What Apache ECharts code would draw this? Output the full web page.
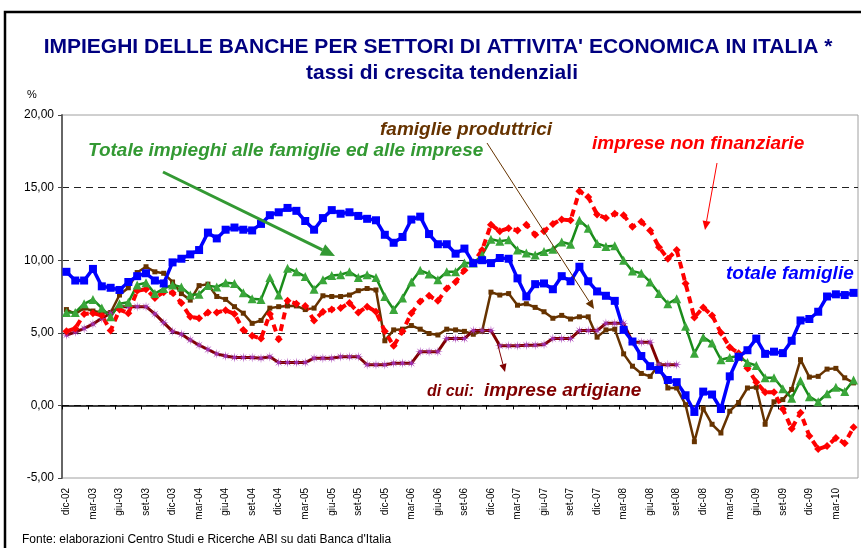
<!DOCTYPE html>
<html>
<head>
<meta charset="utf-8">
<script src="https://cdn.jsdelivr.net/npm/echarts@6/dist/echarts.min.js"></script>
<style>
html, body { margin: 0; padding: 0; background: #fff; }
#chart { width: 861px; height: 548px; }
</style>
</head>
<body>
<div id="chart"></div>
<script>
// mesi da dic-02 a mag-10
const categories = [
    'dic-02',
    'gen-03','feb-03','mar-03','apr-03','mag-03','giu-03','lug-03','ago-03','set-03','ott-03','nov-03','dic-03',
    'gen-04','feb-04','mar-04','apr-04','mag-04','giu-04','lug-04','ago-04','set-04','ott-04','nov-04','dic-04',
    'gen-05','feb-05','mar-05','apr-05','mag-05','giu-05','lug-05','ago-05','set-05','ott-05','nov-05','dic-05',
    'gen-06','feb-06','mar-06','apr-06','mag-06','giu-06','lug-06','ago-06','set-06','ott-06','nov-06','dic-06',
    'gen-07','feb-07','mar-07','apr-07','mag-07','giu-07','lug-07','ago-07','set-07','ott-07','nov-07','dic-07',
    'gen-08','feb-08','mar-08','apr-08','mag-08','giu-08','lug-08','ago-08','set-08','ott-08','nov-08','dic-08',
    'gen-09','feb-09','mar-09','apr-09','mag-09','giu-09','lug-09','ago-09','set-09','ott-09','nov-09','dic-09',
    'gen-10','feb-10','mar-10','apr-10','mag-10'
];

const totaleFamiglie = [
    9.2, 8.6, 8.6, 9.4, 8.2, 8.1, 7.95, 8.5, 8.9, 9.1, 8.6, 8.4,
    9.85, 10.1, 10.4, 10.7, 11.9, 11.5, 12.1, 12.25, 12.1, 12.05, 12.5, 13.1,
    13.3, 13.6, 13.4, 12.7, 12.1, 12.9, 13.45, 13.2, 13.3, 13.05, 12.85, 12.75,
    11.75, 11.2, 11.6, 12.8, 13.0, 11.8, 11.1, 11.1, 10.45, 10.8, 9.8, 10.0,
    9.8, 10.15, 10.1, 8.75, 7.5, 8.35, 8.4, 8.0, 8.9, 8.55, 9.55, 8.55,
    7.85, 7.55, 7.2, 5.2, 4.4, 3.4, 2.7, 2.45, 1.75, 1.6, 0.7, -0.45,
    0.95, 0.75, -0.25, 2.0, 3.35, 3.8, 4.6, 3.55, 3.7, 3.6, 4.45, 5.85,
    5.95, 6.45, 7.5, 7.65, 7.6, 7.75
];

const totaleImpieghi = [
    6.4, 6.4, 7.0, 7.3, 6.7, 6.1, 7.0, 7.1, 8.3, 8.45, 7.7, 8.05,
    8.3, 8.15, 7.6, 7.65, 8.25, 8.15, 8.45, 8.4, 7.75, 7.35, 7.3, 8.8,
    7.6, 9.45, 9.2, 8.87, 8.0, 8.65, 8.95, 9.0, 9.2, 8.8, 9.0, 8.8,
    7.5, 6.6, 7.4, 8.5, 9.3, 9.05, 8.65, 9.2, 9.2, 9.8, 9.8, 10.35,
    11.45, 11.3, 11.4, 10.7, 10.5, 10.35, 10.6, 10.75, 11.25, 11.1, 12.75, 12.2,
    11.15, 10.95, 11.0, 10.0, 9.25, 9.1, 8.5, 7.7, 7.0, 7.35, 5.45, 3.6,
    4.7, 4.3, 3.15, 3.3, 3.4, 2.95, 2.75, 1.9, 1.9, 1.15, 0.5, 1.7,
    0.6, 0.25, 0.8, 1.25, 0.95, 1.75
];

const famiglieProduttrici = [
    6.6, 6.3, 6.7, 6.5, 6.4, 6.4, 7.6, 8.1, 9.15, 9.55, 9.2, 9.1,
    8.5, 7.7, 7.25, 8.25, 8.35, 7.5, 7.3, 6.8, 6.35, 5.65, 5.85, 6.7,
    6.8, 6.85, 6.85, 6.6, 6.7, 7.55, 7.5, 7.5, 7.6, 7.9, 8.05, 7.95,
    4.45, 5.2, 5.25, 5.5, 5.25, 4.95, 4.85, 5.25, 5.2, 5.1, 4.9, 5.1,
    7.8, 7.6, 7.7, 6.9, 7.0, 6.75, 6.45, 6.0, 6.2, 5.95, 6.1, 6.1,
    4.7, 5.2, 5.25, 3.55, 2.7, 2.2, 2.0, 2.8, 1.2, 1.2, 0.05, -2.5,
    -0.2, -1.3, -1.9, -0.4, 0.2, 1.2, 1.25, -1.3, 0.25, 0.4, 1.1, 3.15,
    1.95, 2.0, 2.5, 2.55, 1.9, 1.55
];

const impreseArtigiane = [
    4.85, 5.05, 5.3, 5.6, 6.0, 6.35, 6.8, 6.8, 6.8, 6.8, 6.3, 5.7,
    5.1, 4.9, 4.5, 4.15, 3.85, 3.55, 3.4, 3.3, 3.3, 3.3, 3.25, 3.35,
    2.95, 2.95, 2.95, 2.95, 3.25, 3.25, 3.25, 3.35, 3.35, 3.35, 2.8, 2.8,
    2.8, 2.9, 2.9, 2.9, 3.7, 3.7, 3.7, 4.6, 4.6, 4.6, 5.15, 5.15,
    5.15, 4.1, 4.1, 4.1, 4.15, 4.15, 4.2, 4.6, 4.6, 4.6, 5.15, 5.15,
    5.15, 5.65, 5.65, 5.65, 4.35, 4.35, 4.35, 2.8, 2.8, 2.8
];

const impreseNonFinanziarie = [
    5.1, 5.3, 6.3, 6.35, 6.2, 5.15, 6.6, 6.35, 7.9, 8.0, 7.4, 7.8,
    7.75, 7.05, 6.1, 6.0, 6.4, 6.4, 6.55, 6.3, 5.2, 4.8, 4.6, 6.3,
    4.55, 7.2, 7.0, 6.85, 5.85, 6.45, 6.6, 6.7, 7.05, 6.4, 6.8, 6.45,
    5.1, 4.1, 5.1, 6.35, 7.15, 7.55, 7.2, 8.05, 8.5, 9.3, 9.85, 10.7,
    12.45, 12.0, 12.2, 12.05, 12.45, 11.75, 12.0, 12.5, 12.8, 12.75, 14.75, 14.35,
    13.15, 12.9, 13.2, 13.1, 12.3, 12.65, 12.05, 10.9, 10.1, 10.7, 8.4, 6.05,
    6.75, 6.2, 5.0, 4.0, 3.6, 2.55, 1.6, 0.9, 0.9, -0.25, -1.6, -0.5,
    -2.1, -3.0, -2.8, -2.25, -2.6, -1.5
];

const yTicks = { min: -5, max: 20, step: 5 };

const FONT = "'Liberation Sans', Arial, sans-serif";
const asterisk = 'path://M10,5 L6.2,5.5 L8.54,8.54 L5.5,6.2 L5,10 L4.5,6.2 L1.46,8.54 L3.8,5.5 L0,5 L3.8,4.5 L1.46,1.46 L4.5,3.8 L5,0 L5.5,3.8 L8.54,1.46 L6.2,4.5 Z';

// freccia: linea + punta
function arrow(x1, y1, x2, y2, color, width, head) {
    const ang = Math.atan2(y2 - y1, x2 - x1);
    const hw = head * 0.45;
    const bx = x2 - head * Math.cos(ang), by = y2 - head * Math.sin(ang);
    const px = -Math.sin(ang) * hw, py = Math.cos(ang) * hw;
    return [
        { type: 'line', z: 20, shape: { x1: x1, y1: y1, x2: bx, y2: by }, style: { stroke: color, lineWidth: width } },
        { type: 'polygon', z: 20, shape: { points: [[x2, y2], [bx + px, by + py], [bx - px, by - py]] }, style: { fill: color } }
    ];
}

function label(text, x, y, color, size) {
    return {
        type: 'text', z: 20, x: x, y: y,
        style: {
            text: text, fill: color, font: 'italic bold ' + size + 'px ' + FONT,
            textAlign: 'left', textVerticalAlign: 'middle'
        }
    };
}

const chart = echarts.init(document.getElementById('chart'));

const graphics = [
    { type: 'rect', z: 0, shape: { x: 5, y: 12, width: 900, height: 600 }, style: { fill: null, stroke: '#000', lineWidth: 2.5 } },
    { type: 'text', z: 20, x: 438, y: 47, style: { text: "IMPIEGHI DELLE BANCHE PER SETTORI DI ATTIVITA' ECONOMICA IN ITALIA *", fill: '#000080', font: 'bold 21px ' + FONT, textAlign: 'center', textVerticalAlign: 'middle' } },
    { type: 'text', z: 20, x: 442, y: 73, style: { text: 'tassi di crescita tendenziali', fill: '#000080', font: 'bold 21px ' + FONT, textAlign: 'center', textVerticalAlign: 'middle' } },
    { type: 'text', z: 20, x: 27, y: 95, style: { text: '%', fill: '#000', font: '11px ' + FONT, textAlign: 'left', textVerticalAlign: 'middle' } },
    { type: 'text', z: 20, x: 22, y: 540, style: { text: "Fonte: elaborazioni Centro Studi e Ricerche ABI su dati Banca d'Italia", fill: '#000', font: '12px ' + FONT, textAlign: 'left', textVerticalAlign: 'middle' } },
    label('Totale impieghi alle famiglie ed alle imprese', 88, 151, '#339933', 19),
    label('famiglie produttrici', 380, 130, '#663300', 19),
    label('imprese non finanziarie', 592, 144, '#ff0000', 19),
    label('totale famiglie', 726, 274, '#0000ff', 19),
    label('di cui:', 427, 392, '#800000', 16),
    label('imprese artigiane', 484, 391, '#800000', 19)
].concat(
    arrow(163, 172, 335, 256, '#339933', 3, 14),
    arrow(487, 143, 594, 309, '#663300', 1, 9),
    arrow(717, 163, 705, 230, '#ff0000', 1, 9),
    arrow(496, 338, 505, 372, '#800000', 1, 8)
);

chart.setOption({
    animation: false,
    backgroundColor: '#fff',
    textStyle: { fontFamily: FONT },
    grid: {
        left: 62, right: 3, top: 115, bottom: 70,
        show: true, borderColor: '#a0a0a0', borderWidth: 1, backgroundColor: '#fff'
    },
    xAxis: [
        {
            type: 'category', data: categories, boundaryGap: true, position: 'bottom',
            axisLine: { show: true, onZero: true, lineStyle: { color: '#000', width: 1.5 } },
            axisTick: { show: true, interval: 2, length: 4, lineStyle: { color: '#000' } },
            axisLabel: { show: false }
        },
        {
            type: 'category', data: categories, boundaryGap: true, position: 'bottom',
            axisLine: { show: false, onZero: false },
            axisTick: { show: false },
            axisLabel: { interval: 2, rotate: 90, fontSize: 10, color: '#000', margin: 10, fontFamily: FONT }
        }
    ],
    yAxis: {
        type: 'value', min: yTicks.min, max: yTicks.max, interval: yTicks.step,
        axisLine: { show: true, lineStyle: { color: '#666', width: 2 } },
        axisTick: { show: true, length: 4, lineStyle: { color: '#444' } },
        axisLabel: {
            fontSize: 12, color: '#000', margin: 8, fontFamily: FONT,
            formatter: function (v) { return v.toFixed(2).replace('.', ','); }
        },
        splitLine: { show: true, showMinLine: false, showMaxLine: false, lineStyle: { color: '#222', type: [7, 5], width: 1 } }
    },
    graphic: graphics,
    series: [
        {
            name: 'famiglie produttrici', type: 'line', data: famiglieProduttrici,
            symbol: 'rect', symbolSize: 5, showAllSymbol: true,
            lineStyle: { color: '#663300', width: 2.5 }, itemStyle: { color: '#663300' }
        },
        {
            name: 'imprese artigiane', type: 'line', data: impreseArtigiane,
            symbol: asterisk, symbolSize: 10, showAllSymbol: true,
            lineStyle: { color: '#800000', width: 3 }, itemStyle: { color: '#a030b0' }
        },
        {
            name: 'imprese non finanziarie', type: 'line', data: impreseNonFinanziarie,
            symbol: 'diamond', symbolSize: 8, showAllSymbol: true,
            lineStyle: { color: '#ff0000', width: 4, type: [7, 5] }, itemStyle: { color: '#ff0000' }
        },
        {
            name: 'totale impieghi', type: 'line', data: totaleImpieghi,
            symbol: 'triangle', symbolSize: 9, showAllSymbol: true,
            lineStyle: { color: '#1a8c1a', width: 2.5 }, itemStyle: { color: '#3aa63a' }
        },
        {
            name: 'totale famiglie', type: 'line', data: totaleFamiglie,
            symbol: 'rect', symbolSize: 8, showAllSymbol: true,
            lineStyle: { color: '#0000ff', width: 3.5 }, itemStyle: { color: '#0000ff' }
        }
    ]
});
</script>
</body>
</html>
